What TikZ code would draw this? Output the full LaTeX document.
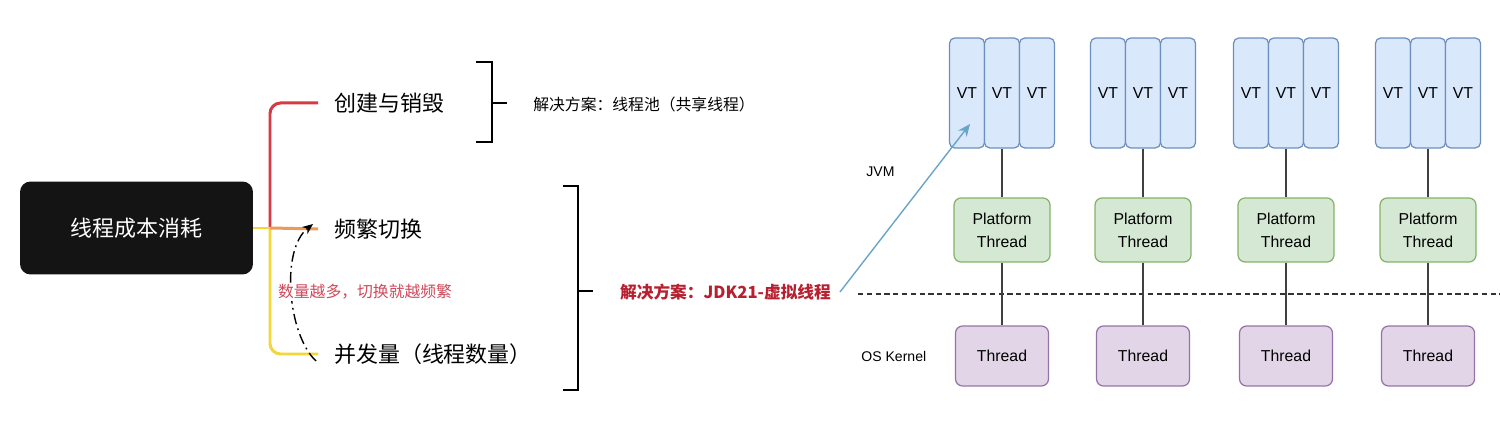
\documentclass[tikz,border=0pt]{standalone}
\usepackage{fontspec}
\setmainfont{Liberation Sans}
\newfontfamily\cjk{Noto Sans CJK SC}
\usepackage{tikz}
\usetikzlibrary{arrows.meta}
\definecolor{vtfill}{HTML}{DAE8FC}
\definecolor{vtline}{HTML}{6C8EBF}
\definecolor{ptfill}{HTML}{D5E8D4}
\definecolor{ptline}{HTML}{82B366}
\definecolor{osfill}{HTML}{E1D5E7}
\definecolor{osline}{HTML}{9673A6}
\definecolor{branchred}{HTML}{D63A45}
\definecolor{branchorange}{HTML}{EE9A55}
\definecolor{branchyellow}{HTML}{F2D63A}
\definecolor{notered}{HTML}{D0485A}
\definecolor{jdkred}{HTML}{B8202F}
\definecolor{arrowblue}{HTML}{6AA5C8}
\newcommand{\vtgroup}[2]{
    \node[vtbox] (#1a) at (#2-35,93) {VT};
    \node[vtbox] (#1b) at (#2,93) {VT};
    \node[vtbox] (#1c) at (#2+35,93) {VT};
    \node[ptbox] (#1p) at (#2,230) {Platform\\Thread};
    \node[osbox] (#1t) at (#2,356) {Thread};
    \draw[link] (#1b) -- (#1p) -- (#1t);
}
\begin{document}
\begin{tikzpicture}[x=0.02cm,y=-0.02cm,
        rootbox/.style={fill=black!92, rounded corners=6pt, minimum width=4.66cm,
            minimum height=1.86cm, text=white, font=\cjk\fontsize{12.5}{14}\selectfont},
        branchtext/.style={anchor=west, inner xsep=9pt, inner ysep=0pt,
            font=\cjk\fontsize{12.5}{14}\selectfont},
        branch/.style={line width=1.7pt, rounded corners=6pt},
        bracket/.style={line width=1.4pt},
        vtbox/.style={draw=vtline, fill=vtfill, line width=0.7pt, rounded corners=3pt,
            minimum width=0.7cm, minimum height=2.2cm, inner sep=0pt,
            font=\fontsize{9}{10}\selectfont},
        ptbox/.style={draw=ptline, fill=ptfill, line width=0.7pt, rounded corners=4pt,
            minimum width=1.92cm, minimum height=1.28cm, inner sep=0pt, align=center,
            font=\fontsize{9}{13}\selectfont},
        osbox/.style={draw=osline, fill=osfill, line width=0.7pt, rounded corners=4pt,
            minimum width=1.86cm, minimum height=1.2cm, inner sep=0pt,
            font=\fontsize{9}{10}\selectfont},
        link/.style={draw=black!75, line width=0.6pt},
        layer/.style={anchor=west, inner sep=0pt, font=\fontsize{8}{10}\selectfont}
    ]
    \useasboundingbox (0,0) rectangle (1500,431);

    % left: mind map
    \node[rootbox] (root) at (136.5,228) {线程成本消耗};
    \coordinate (fork) at (270,228);
    \node[branchtext] (cj) at (318,103) {创建与销毁};
    \node[branchtext] (pf) at (318,229) {频繁切换};
    \node[branchtext] (bf) at (318,354) {并发量（线程数量）};
    \draw[branch, branchred] (fork) |- (cj.west);
    \draw[branch, branchyellow] (fork) |- (bf.west);
    \draw[line width=1.7pt, branchyellow] (root.east) -- (fork);
    \draw[line width=1.7pt, branchorange] (fork) -- (pf.west);

    \coordinate (cbot) at (316,361);
    \coordinate (ctop) at (313,224);
    \draw[line width=0.8pt, dash pattern=on 6pt off 2.5pt on 1pt off 2.5pt, -{Stealth[length=6pt,width=5pt]}]
        (cbot) .. controls (288,335) and (280,250) .. (ctop);
    \node[anchor=west, fill=white, inner sep=1pt, text=notered,
        font=\cjk\fontsize{9}{11}\selectfont] (more) at (276,292) {数量越多，切换就越频繁};

    % brackets
    \draw[bracket] (476,62) -- (492,62) -- (492,142) -- (476,142);
    \draw[bracket] (492,103) -- (507,103);
    \node[anchor=west, inner sep=0pt, font=\cjk\fontsize{9}{11}\selectfont] (pool) at (533,104)
        {解决方案：线程池（共享线程）};
    \draw[bracket] (563,186) -- (578,186) -- (578,390) -- (563,390);
    \draw[bracket] (578,291) -- (593,291);
    \node[anchor=west, inner sep=5pt, text=jdkred, font=\cjk\bfseries\fontsize{9.5}{11}\selectfont]
        (jdk) at (611,292) {解决方案：JDK21-虚拟线程};

    % right: virtual threads
    \coordinate (sepl) at (858,294);
    \coordinate (sepr) at (1500,294);
    \draw[black!80, line width=0.6pt, dash pattern=on 3pt off 2pt] (sepl) -- (sepr);
    \node[layer] (jvm) at (866,172) {JVM};
    \node[layer] (os) at (861,356) {OS Kernel};

    \vtgroup{g1}{1002}
    \vtgroup{g2}{1143}
    \vtgroup{g3}{1286}
    \vtgroup{g4}{1428}

    \coordinate (vthit) at (970,124);
    \draw[arrowblue, line width=0.8pt, -{Stealth[length=7pt,width=6pt]}] (jdk.east) -- (vthit);
\end{tikzpicture}
\end{document}
